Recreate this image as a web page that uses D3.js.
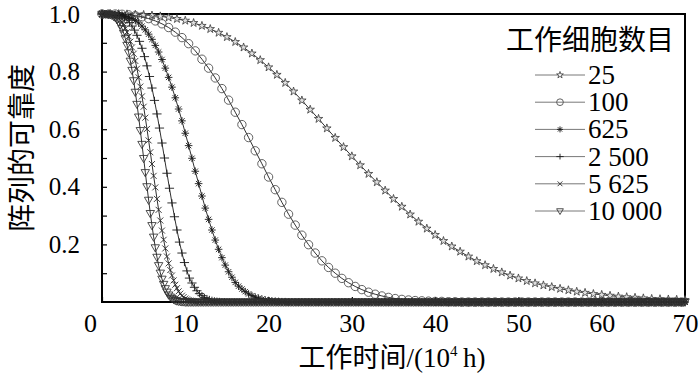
<!DOCTYPE html>
<html>
<head>
<meta charset="utf-8">
<script src="https://cdn.jsdelivr.net/npm/d3@7/dist/d3.min.js"></script>
<style>
  body { margin: 0; background: #fff; }
  svg text { fill: #000; }
  svg text.num, svg tspan.num, .tick text { font-family: "Liberation Serif", "Times New Roman", serif; }
  svg text.cjk, svg tspan.cjk { font-family: "Noto Sans CJK SC", "Noto Sans CJK JP", sans-serif; }
</style>
</head>
<body>
<svg id="chart" width="700" height="384"></svg>
<script>
(function () {
  'use strict';

  // legend labels and how far apart (in 10^4 h) each curve's points are
  var seriesNames = ['25', '100', '625', '2 500', '5 625', '10 000'];
  var seriesSteps = [1, 0.8, 0.4, 0.3, 0.2, 0.2];
  var seriesMarkers = ['star', 'circle', 'asterisk', 'plus', 'cross', 'triangle'];

  // reliability, first point at t = 0
  var r25 = [1.000, 1.000, 1.000, 0.999, 0.998, 0.997, 0.995, 0.992, 0.988, 0.983,
    0.977, 0.969, 0.959, 0.948, 0.935, 0.920, 0.903, 0.884, 0.863, 0.840,
    0.815, 0.789, 0.761, 0.731, 0.700, 0.668, 0.636, 0.603, 0.570, 0.538,
    0.506, 0.475, 0.445, 0.416, 0.387, 0.358, 0.331, 0.304, 0.279, 0.255,
    0.233, 0.212, 0.193, 0.175, 0.158, 0.142, 0.128, 0.115, 0.103, 0.092,
    0.082, 0.073, 0.065, 0.058, 0.052, 0.046, 0.041, 0.036, 0.032, 0.028,
    0.025, 0.022, 0.019, 0.017, 0.015, 0.013, 0.011, 0.010, 0.009, 0.008,
    0.007];
  var r100 = [1.000, 1.000, 1.000, 0.999, 0.997, 0.994, 0.990, 0.984, 0.976, 0.966,
    0.953, 0.937, 0.918, 0.897, 0.872, 0.843, 0.812, 0.778, 0.741, 0.701,
    0.659, 0.616, 0.571, 0.525, 0.480, 0.434, 0.390, 0.346, 0.305, 0.267,
    0.232, 0.199, 0.170, 0.143, 0.120, 0.100, 0.082, 0.067, 0.054, 0.043,
    0.034, 0.027, 0.021, 0.016, 0.012, 0.009, 0.007, 0.005, 0.004, 0.003,
    0.002, 0.002, 0.001, 0.001];
  var r625 = [1.000, 1.000, 1.000, 1.000, 0.999, 0.998, 0.996, 0.993, 0.989, 0.984,
    0.977, 0.969, 0.958, 0.945, 0.930, 0.912, 0.891, 0.868, 0.842, 0.812,
    0.780, 0.746, 0.709, 0.670, 0.629, 0.586, 0.543, 0.499, 0.454, 0.411,
    0.368, 0.326, 0.287, 0.250, 0.215, 0.183, 0.154, 0.128, 0.105, 0.086,
    0.068, 0.055, 0.045, 0.036, 0.028, 0.022, 0.017, 0.013, 0.010, 0.007,
    0.005, 0.004, 0.003, 0.002, 0.001, 0.001];
  var r2500 = [1.000, 1.000, 1.000, 1.000, 0.999, 0.998, 0.997, 0.995, 0.991, 0.986,
    0.979, 0.970, 0.958, 0.944, 0.926, 0.905, 0.881, 0.852, 0.820, 0.783,
    0.743, 0.700, 0.653, 0.604, 0.552, 0.500, 0.447, 0.395, 0.344, 0.296,
    0.250, 0.208, 0.170, 0.137, 0.108, 0.083, 0.066, 0.051, 0.039, 0.029,
    0.022, 0.016, 0.012, 0.009, 0.006, 0.004, 0.003, 0.002, 0.001, 0.001];
  var r5625 = [1.000, 1.000, 1.000, 1.000, 0.999, 0.999, 0.997, 0.996, 0.993, 0.989,
    0.984, 0.978, 0.971, 0.961, 0.950, 0.937, 0.922, 0.904, 0.884, 0.862,
    0.837, 0.810, 0.780, 0.748, 0.714, 0.678, 0.640, 0.601, 0.561, 0.520,
    0.479, 0.438, 0.398, 0.358, 0.320, 0.283, 0.248, 0.216, 0.186, 0.158,
    0.134, 0.111, 0.092, 0.075, 0.060, 0.048, 0.037, 0.029, 0.022, 0.017,
    0.012, 0.009, 0.007, 0.005, 0.004, 0.003, 0.002, 0.001, 0.001];
  var r10000 = [1.000, 1.000, 1.000, 1.000, 0.999, 0.998, 0.996, 0.992, 0.988, 0.981,
    0.973, 0.963, 0.950, 0.934, 0.915, 0.892, 0.866, 0.837, 0.805, 0.769,
    0.729, 0.687, 0.643, 0.596, 0.548, 0.499, 0.450, 0.401, 0.354, 0.308,
    0.266, 0.226, 0.189, 0.156, 0.127, 0.101, 0.080, 0.062, 0.047, 0.035,
    0.025, 0.018, 0.013, 0.009, 0.006, 0.004, 0.003, 0.002, 0.001, 0.001];
  var seriesValues = [r25, r100, r625, r2500, r5625, r10000];

  // after its last listed value every curve lies on 0 up to the end of the axis
  var tailValue = 0;
  var tMax = 70;

  var xTicks = [0, 10, 20, 30, 40, 50, 60, 70];
  var yTicks = [0.2, 0.4, 0.6, 0.8, 1.0];
  var yMinorTicks = [0.1, 0.3, 0.5, 0.7, 0.9];

  var svg = d3.select('#chart');
  var x = d3.scaleLinear().domain([0, tMax]).range([102, 685]);
  var y = d3.scaleLinear().domain([0, 1]).range([302, 14]);

  // build the point lists
  var series = seriesNames.map(function (name, i) {
    var step = seriesSteps[i];
    var vals = seriesValues[i];
    var pts = vals.map(function (v, j) { return [j * step, v]; });
    for (var j = vals.length; j * step <= tMax + 1e-9; j++) {
      pts.push([j * step, tailValue]);
    }
    return { name: name, marker: seriesMarkers[i], pts: pts };
  });

  // marker shapes, k scales them down for the legend
  function markerPath(kind, k) {
    var r;
    if (kind === 'star') {
      return d3.symbol().type(d3.symbolStar).size(22 * k * k)();
    }
    if (kind === 'circle') {
      r = 4.2 * k;
      return 'M' + r + ',0A' + r + ',' + r + ' 0 1 1 ' + (-r) + ',0A' + r + ',' + r + ' 0 1 1 ' + r + ',0Z';
    }
    if (kind === 'asterisk') {
      r = 3.8 * k;
      var a = r * 0.707;
      return 'M' + (-r) + ',0L' + r + ',0M0,' + (-r) + 'L0,' + r +
        'M' + (-a) + ',' + (-a) + 'L' + a + ',' + a + 'M' + (-a) + ',' + a + 'L' + a + ',' + (-a);
    }
    if (kind === 'plus') {
      var w = 4.6 * k, h = 3.6 * k;
      return 'M' + (-w) + ',0L' + w + ',0M0,' + (-h) + 'L0,' + h;
    }
    if (kind === 'cross') {
      r = 3 * k;
      return 'M' + (-r) + ',' + (-r) + 'L' + r + ',' + r + 'M' + (-r) + ',' + r + 'L' + r + ',' + (-r);
    }
    // triangle pointing down
    var tw = 4.2 * k;
    return 'M' + (-tw) + ',' + (-2.8 * k) + 'L' + tw + ',' + (-2.8 * k) + 'L0,' + (4.4 * k) + 'Z';
  }

  var markerStyle = {
    star: { stroke: '#3a3a3a', fill: '#e0e0e0', width: 0.8 },
    circle: { stroke: '#505050', fill: 'none', width: 0.9 },
    asterisk: { stroke: '#1a1a1a', fill: 'none', width: 0.9 },
    plus: { stroke: '#1a1a1a', fill: 'none', width: 0.9 },
    cross: { stroke: '#2a2a2a', fill: 'none', width: 0.9 },
    triangle: { stroke: '#303030', fill: 'none', width: 0.85 }
  };

  // frame
  svg.append('rect')
    .attr('x', x(0)).attr('y', y(1))
    .attr('width', x(tMax) - x(0)).attr('height', y(0) - y(1))
    .attr('fill', 'none').attr('stroke', '#000').attr('stroke-width', 2);

  // y axis, ticks point inwards
  var yAxis = svg.append('g')
    .attr('transform', 'translate(' + x(0) + ',0)')
    .call(d3.axisLeft(y).tickValues(yTicks).tickSize(-5).tickPadding(22)
      .tickFormat(d3.format('.1f')));
  svg.append('g')
    .attr('transform', 'translate(' + x(0) + ',0)')
    .call(d3.axisLeft(y).tickValues(yMinorTicks).tickSize(-5).tickFormat(''));

  var xAxis = svg.append('g')
    .attr('transform', 'translate(0,' + y(0) + ')')
    .call(d3.axisBottom(x).tickValues(xTicks).tickSize(-5).tickPadding(12)
      .tickFormat(d3.format('d')));

  svg.selectAll('.domain').remove();
  svg.selectAll('g').attr('font-family', null);
  svg.selectAll('.tick line').attr('stroke', '#000').attr('stroke-width', 1.2);
  yAxis.selectAll('text').attr('class', 'num').style('font-size', '25px').attr('fill', '#000');
  xAxis.selectAll('text').attr('class', 'num').style('font-size', '26px').attr('fill', '#000');
  xAxis.selectAll('.tick')
    .filter(function (d) { return d === 0; })
    .select('text').attr('dx', -12);

  // curves
  var line = d3.line()
    .x(function (d) { return x(d[0]); })
    .y(function (d) { return y(d[1]); });

  var plot = svg.append('g');
  series.forEach(function (s) {
    var st = markerStyle[s.marker];
    plot.append('path')
      .attr('d', line(s.pts))
      .attr('fill', 'none')
      .attr('stroke', '#1a1a1a')
      .attr('stroke-width', 0.9);
    plot.append('g').selectAll('path')
      .data(s.pts)
      .enter().append('path')
      .attr('transform', function (d) { return 'translate(' + x(d[0]) + ',' + y(d[1]) + ')'; })
      .attr('d', markerPath(s.marker, 1))
      .attr('fill', st.fill)
      .attr('stroke', st.stroke)
      .attr('stroke-width', st.width);
  });

  // legend
  var legend = svg.append('g');
  legend.append('text')
    .attr('class', 'cjk')
    .attr('x', 506).attr('y', 50)
    .style('font-size', '28px')
    .text('工作细胞数目');
  series.forEach(function (s, i) {
    var st = markerStyle[s.marker];
    var ly = 75 + i * 27.2;
    legend.append('line')
      .attr('x1', 535).attr('x2', 585).attr('y1', ly).attr('y2', ly)
      .attr('stroke', '#555').attr('stroke-width', 0.8);
    legend.append('path')
      .attr('transform', 'translate(560,' + ly + ')')
      .attr('d', markerPath(s.marker, 0.8))
      .attr('fill', s.marker === 'star' ? '#fff' : st.fill)
      .attr('stroke', st.stroke)
      .attr('stroke-width', st.width);
    legend.append('text')
      .attr('class', 'num')
      .attr('x', 588).attr('y', ly + 9)
      .style('font-size', '27px')
      .text(s.name);
  });

  // axis titles
  svg.append('text')
    .attr('class', 'cjk')
    .attr('transform', 'translate(32,148) rotate(-90)')
    .attr('text-anchor', 'middle')
    .style('font-size', '28px')
    .text('阵列的可靠度');

  var xt = svg.append('text')
    .attr('x', 392).attr('y', 367)
    .attr('text-anchor', 'middle')
    .style('font-size', '27px');
  xt.append('tspan').attr('class', 'cjk').text('工作时间');
  xt.append('tspan').attr('class', 'num').text('/(10');
  xt.append('tspan').attr('class', 'num').style('font-size', '15px')
    .attr('dy', -11).text('4');
  xt.append('tspan').attr('class', 'num').attr('dy', 11).text('\u2009h)');
})();
</script>
</body>
</html>
